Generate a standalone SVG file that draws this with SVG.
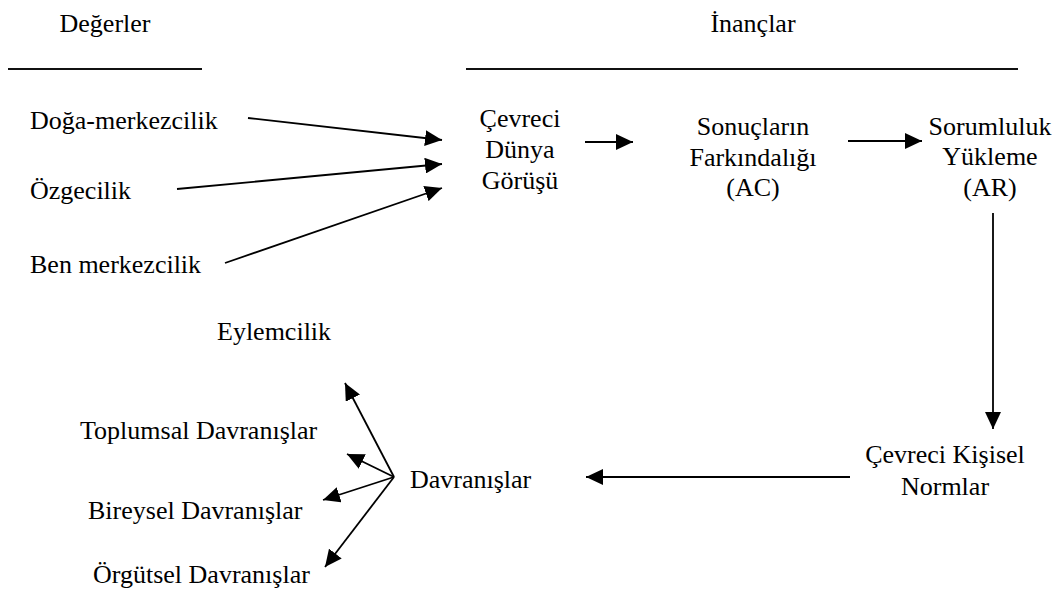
<svg xmlns="http://www.w3.org/2000/svg" width="1059" height="592" viewBox="0 0 1059 592">
  <style>
    text { font-family: "Times New Roman", Times, "Liberation Serif", Tinos, "Nimbus Roman", "Noto Serif", "DejaVu Serif", serif; font-size: 26px; fill: #000; }
    .mid { text-anchor: middle; }
    .rule { stroke: #111; stroke-width: 2.2; }
    .conn line { stroke: #000; stroke-width: 1.8; marker-end: url(#head); }
  </style>
  <defs>
    <marker id="head" markerUnits="userSpaceOnUse" markerWidth="17" markerHeight="16" refX="17" refY="8" orient="auto">
      <path d="M0,0 L17,8 L0,16 z" fill="#000"/>
    </marker>
  </defs>

  <rect width="1059" height="592" fill="#fff"/>

  <!-- column headings -->
  <g id="heading-values">
    <text class="mid" x="105" y="32">Değerler</text>
    <line class="rule" x1="8" y1="69" x2="202" y2="69"/>
  </g>
  <g id="heading-beliefs">
    <text class="mid" x="753" y="32">İnançlar</text>
    <line class="rule" x1="466" y1="69" x2="1018" y2="69"/>
  </g>

  <!-- values -->
  <g id="node-biospheric"><text x="30" y="129">Doğa-merkezcilik</text></g>
  <g id="node-altruistic"><text x="30" y="199">Özgecilik</text></g>
  <g id="node-egoistic"><text x="30" y="273">Ben merkezcilik</text></g>

  <!-- beliefs -->
  <g id="node-nep">
    <text class="mid" x="520" y="127">Çevreci</text>
    <text class="mid" x="520" y="158">Dünya</text>
    <text class="mid" x="520" y="189">Görüşü</text>
  </g>
  <g id="node-ac">
    <text class="mid" x="753" y="135">Sonuçların</text>
    <text class="mid" x="753" y="166">Farkındalığı</text>
    <text class="mid" x="753" y="196">(AC)</text>
  </g>
  <g id="node-ar">
    <text class="mid" x="990" y="135">Sorumluluk</text>
    <text class="mid" x="990" y="165">Yükleme</text>
    <text class="mid" x="990" y="196">(AR)</text>
  </g>
  <g id="node-norms">
    <text class="mid" x="945" y="463">Çevreci Kişisel</text>
    <text class="mid" x="945" y="495">Normlar</text>
  </g>

  <!-- behaviours -->
  <g id="node-behaviour"><text x="410" y="488">Davranışlar</text></g>
  <g id="node-activism"><text x="217" y="340">Eylemcilik</text></g>
  <g id="node-public"><text x="80" y="439">Toplumsal Davranışlar</text></g>
  <g id="node-private"><text x="88" y="519">Bireysel Davranışlar</text></g>
  <g id="node-organisational"><text x="93" y="583">Örgütsel Davranışlar</text></g>

  <!-- connectors -->
  <g id="connectors" class="conn">
    <line x1="248" y1="118" x2="442" y2="140"/>
    <line x1="177" y1="189" x2="442" y2="164"/>
    <line x1="225" y1="263" x2="442" y2="188"/>
    <line x1="585" y1="142" x2="633" y2="142"/>
    <line x1="848" y1="141" x2="922" y2="141"/>
    <line x1="993" y1="213" x2="993" y2="429"/>
    <line x1="850" y1="477" x2="586" y2="477"/>
    <line x1="394" y1="477" x2="345" y2="383"/>
    <line x1="394" y1="477" x2="347" y2="454"/>
    <line x1="394" y1="477" x2="323" y2="500"/>
    <line x1="394" y1="477" x2="325" y2="567"/>
  </g>
</svg>
